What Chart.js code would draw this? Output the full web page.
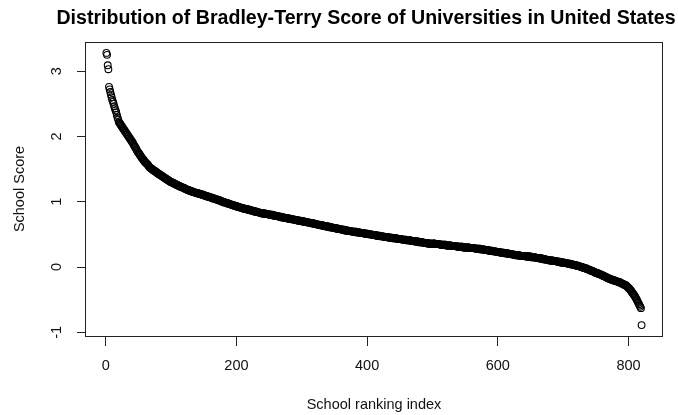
<!DOCTYPE html>
<html>
<head>
<meta charset="utf-8">
<script src="https://cdn.jsdelivr.net/npm/chart.js@4"></script>
<style>
  html, body { margin: 0; padding: 0; background: #fff; }
  #wrap { width: 678px; height: 415px; }
</style>
</head>
<body>
<div id="wrap"><canvas id="myChart" width="678" height="415"></canvas></div>
<script>
// Bradley-Terry score per school, in ranking order
const scores = [
  3.28, 3.25, 3.09, 3.03, 2.76, 2.72, 2.68, 2.64, 2.60, 2.56,
  2.53, 2.50, 2.46, 2.43, 2.40, 2.37, 2.33, 2.29, 2.26, 2.22,
  2.21, 2.19, 2.18, 2.16, 2.15, 2.13, 2.12, 2.10, 2.09, 2.07,
  2.06, 2.04, 2.03, 2.01, 2.00, 1.98, 1.97, 1.95, 1.94, 1.92,
  1.91, 1.89, 1.87, 1.85, 1.84, 1.82, 1.80, 1.78, 1.76, 1.75,
  1.74, 1.72, 1.71, 1.69, 1.68, 1.66, 1.65, 1.64, 1.62, 1.61,
  1.60, 1.59, 1.58, 1.57, 1.56, 1.54, 1.53, 1.52, 1.51, 1.51,
  1.50, 1.49, 1.48, 1.48, 1.47, 1.46, 1.46, 1.45, 1.44, 1.43,
  1.43, 1.42, 1.41, 1.41, 1.40, 1.39, 1.39, 1.38, 1.37, 1.37,
  1.36, 1.35, 1.35, 1.34, 1.33, 1.33, 1.32, 1.31, 1.31, 1.30,
  1.30, 1.29, 1.29, 1.28, 1.28, 1.27, 1.27, 1.26, 1.26, 1.25,
  1.25, 1.24, 1.24, 1.23, 1.23, 1.22, 1.22, 1.22, 1.21, 1.21,
  1.20, 1.20, 1.19, 1.19, 1.18, 1.18, 1.18, 1.17, 1.17, 1.16,
  1.16, 1.16, 1.15, 1.15, 1.15, 1.14, 1.14, 1.14, 1.13, 1.13,
  1.13, 1.13, 1.12, 1.12, 1.12, 1.11, 1.11, 1.11, 1.10, 1.10,
  1.10, 1.09, 1.09, 1.09, 1.08, 1.08, 1.08, 1.07, 1.07, 1.07,
  1.06, 1.06, 1.06, 1.05, 1.05, 1.05, 1.04, 1.04, 1.04, 1.03,
  1.03, 1.03, 1.02, 1.02, 1.02, 1.01, 1.01, 1.00, 1.00, 1.00,
  0.99, 0.99, 0.99, 0.98, 0.98, 0.98, 0.97, 0.97, 0.97, 0.96,
  0.96, 0.96, 0.95, 0.95, 0.95, 0.94, 0.94, 0.94, 0.93, 0.93,
  0.93, 0.92, 0.92, 0.92, 0.91, 0.91, 0.91, 0.91, 0.90, 0.90,
  0.90, 0.89, 0.89, 0.89, 0.89, 0.88, 0.88, 0.88, 0.88, 0.87,
  0.87, 0.87, 0.87, 0.86, 0.86, 0.86, 0.85, 0.85, 0.85, 0.85,
  0.84, 0.84, 0.84, 0.84, 0.83, 0.83, 0.83, 0.83, 0.82, 0.82,
  0.82, 0.82, 0.82, 0.82, 0.81, 0.81, 0.81, 0.81, 0.81, 0.80,
  0.80, 0.80, 0.80, 0.80, 0.80, 0.79, 0.79, 0.79, 0.79, 0.78,
  0.78, 0.78, 0.78, 0.78, 0.77, 0.77, 0.77, 0.77, 0.76, 0.76,
  0.76, 0.76, 0.76, 0.75, 0.75, 0.75, 0.75, 0.75, 0.74, 0.74,
  0.74, 0.74, 0.74, 0.73, 0.73, 0.73, 0.73, 0.73, 0.72, 0.72,
  0.72, 0.72, 0.72, 0.71, 0.71, 0.71, 0.71, 0.71, 0.70, 0.70,
  0.70, 0.70, 0.70, 0.69, 0.69, 0.69, 0.69, 0.69, 0.68, 0.68,
  0.68, 0.68, 0.68, 0.67, 0.67, 0.67, 0.67, 0.67, 0.66, 0.66,
  0.66, 0.66, 0.65, 0.65, 0.65, 0.65, 0.65, 0.64, 0.64, 0.64,
  0.64, 0.64, 0.63, 0.63, 0.63, 0.63, 0.62, 0.62, 0.62, 0.62,
  0.62, 0.61, 0.61, 0.61, 0.61, 0.61, 0.60, 0.60, 0.60, 0.60,
  0.60, 0.59, 0.59, 0.59, 0.59, 0.58, 0.58, 0.58, 0.58, 0.58,
  0.57, 0.57, 0.57, 0.57, 0.57, 0.56, 0.56, 0.56, 0.56, 0.56,
  0.55, 0.55, 0.55, 0.55, 0.55, 0.55, 0.54, 0.54, 0.54, 0.54,
  0.54, 0.54, 0.54, 0.53, 0.53, 0.53, 0.53, 0.53, 0.53, 0.52,
  0.52, 0.52, 0.52, 0.52, 0.52, 0.51, 0.51, 0.51, 0.51, 0.51,
  0.51, 0.50, 0.50, 0.50, 0.50, 0.50, 0.50, 0.49, 0.49, 0.49,
  0.49, 0.49, 0.49, 0.48, 0.48, 0.48, 0.48, 0.48, 0.48, 0.47,
  0.47, 0.47, 0.47, 0.47, 0.47, 0.46, 0.46, 0.46, 0.46, 0.46,
  0.46, 0.46, 0.45, 0.45, 0.45, 0.45, 0.45, 0.45, 0.44, 0.44,
  0.44, 0.44, 0.44, 0.44, 0.44, 0.43, 0.43, 0.43, 0.43, 0.43,
  0.43, 0.43, 0.42, 0.42, 0.42, 0.42, 0.42, 0.42, 0.42, 0.41,
  0.41, 0.41, 0.41, 0.41, 0.41, 0.41, 0.40, 0.40, 0.40, 0.40,
  0.40, 0.40, 0.39, 0.39, 0.39, 0.39, 0.39, 0.39, 0.38, 0.38,
  0.38, 0.38, 0.38, 0.38, 0.38, 0.37, 0.37, 0.37, 0.37, 0.37,
  0.37, 0.36, 0.36, 0.36, 0.36, 0.36, 0.36, 0.35, 0.35, 0.35,
  0.36, 0.36, 0.36, 0.35, 0.35, 0.35, 0.35, 0.35, 0.35, 0.35,
  0.35, 0.34, 0.34, 0.34, 0.34, 0.34, 0.34, 0.34, 0.34, 0.34,
  0.33, 0.33, 0.33, 0.33, 0.33, 0.33, 0.33, 0.33, 0.32, 0.32,
  0.32, 0.32, 0.32, 0.32, 0.32, 0.32, 0.32, 0.31, 0.31, 0.31,
  0.31, 0.31, 0.31, 0.31, 0.31, 0.31, 0.30, 0.30, 0.30, 0.30,
  0.30, 0.30, 0.30, 0.30, 0.30, 0.30, 0.29, 0.29, 0.29, 0.29,
  0.29, 0.29, 0.29, 0.29, 0.29, 0.28, 0.28, 0.28, 0.28, 0.28,
  0.28, 0.28, 0.28, 0.27, 0.27, 0.27, 0.27, 0.27, 0.27, 0.26,
  0.26, 0.26, 0.26, 0.26, 0.26, 0.25, 0.25, 0.25, 0.25, 0.25,
  0.25, 0.24, 0.24, 0.24, 0.24, 0.24, 0.24, 0.23, 0.23, 0.23,
  0.23, 0.23, 0.23, 0.22, 0.22, 0.22, 0.22, 0.22, 0.22, 0.21,
  0.21, 0.21, 0.21, 0.21, 0.21, 0.20, 0.20, 0.20, 0.20, 0.20,
  0.20, 0.19, 0.19, 0.19, 0.19, 0.19, 0.18, 0.18, 0.18, 0.18,
  0.18, 0.18, 0.18, 0.17, 0.17, 0.17, 0.17, 0.17, 0.17, 0.17,
  0.17, 0.17, 0.16, 0.16, 0.16, 0.16, 0.16, 0.16, 0.16, 0.16,
  0.15, 0.15, 0.15, 0.15, 0.15, 0.15, 0.15, 0.14, 0.14, 0.14,
  0.14, 0.14, 0.14, 0.13, 0.13, 0.13, 0.13, 0.13, 0.12, 0.12,
  0.12, 0.12, 0.12, 0.11, 0.11, 0.11, 0.11, 0.11, 0.10, 0.10,
  0.10, 0.10, 0.10, 0.10, 0.09, 0.09, 0.09, 0.09, 0.09, 0.09,
  0.08, 0.08, 0.08, 0.08, 0.08, 0.07, 0.07, 0.07, 0.07, 0.07,
  0.07, 0.06, 0.06, 0.06, 0.06, 0.06, 0.05, 0.05, 0.05, 0.05,
  0.05, 0.04, 0.04, 0.04, 0.04, 0.03, 0.03, 0.03, 0.03, 0.02,
  0.02, 0.02, 0.02, 0.01, 0.01, 0.01, 0.00, 0.00, 0.00, -0.01,
  -0.01, -0.01, -0.02, -0.02, -0.02, -0.03, -0.03, -0.04, -0.04, -0.04,
  -0.05, -0.05, -0.06, -0.06, -0.06, -0.07, -0.07, -0.08, -0.08, -0.09,
  -0.09, -0.09, -0.10, -0.10, -0.11, -0.11, -0.11, -0.12, -0.12, -0.13,
  -0.13, -0.14, -0.14, -0.15, -0.15, -0.16, -0.16, -0.17, -0.17, -0.18,
  -0.18, -0.18, -0.19, -0.19, -0.20, -0.20, -0.20, -0.21, -0.21, -0.21,
  -0.22, -0.22, -0.22, -0.23, -0.23, -0.23, -0.24, -0.24, -0.25, -0.25,
  -0.26, -0.26, -0.27, -0.27, -0.28, -0.28, -0.29, -0.30, -0.31, -0.32,
  -0.33, -0.34, -0.35, -0.37, -0.38, -0.40, -0.41, -0.42, -0.44, -0.45,
  -0.47, -0.49, -0.51, -0.53, -0.55, -0.57, -0.59, -0.61, -0.63, -0.89
];

const xTicks = [0, 200, 400, 600, 800];
const yTicks = [-1, 0, 1, 2, 3];

const titleText = 'Distribution of Bradley-Terry Score of Universities in United States';
const xTitle = 'School ranking index';
const yTitle = 'School Score';

const points = scores.map((s, i) => ({ x: i + 1, y: s }));

// R-ish padding of 4% around the data range
const xMin = 1 - 0.04 * (scores.length - 1);
const xMax = scores.length + 0.04 * (scores.length - 1);
const yLo = Math.min(...scores), yHi = Math.max(...scores);
const yMin = yLo - 0.04 * (yHi - yLo);
const yMax = yHi + 0.04 * (yHi - yLo);

const FONT = '"Liberation Sans", Arial, Helvetica, sans-serif';

// box, tick labels and titles drawn the way base R lays them out
const rStylePlugin = {
  id: 'rStyle',
  afterDraw(chart) {
    const { ctx, chartArea: { left, right, top, bottom }, scales: { x, y } } = chart;
    ctx.save();
    ctx.strokeStyle = '#222';
    ctx.lineWidth = 1;
    ctx.strokeRect(Math.round(left) + 0.5, Math.round(top) + 0.5,
                   Math.round(right - left) - 1, Math.round(bottom - top));

    ctx.fillStyle = '#111';
    ctx.font = '14.5px ' + FONT;
    ctx.textAlign = 'center';
    ctx.textBaseline = 'middle';
    xTicks.forEach(v => {
      ctx.fillText(String(v), x.getPixelForValue(v), bottom + 30);
    });
    yTicks.forEach(v => {
      ctx.save();
      ctx.translate(left - 28, y.getPixelForValue(v));
      ctx.rotate(-Math.PI / 2);
      ctx.fillText(String(v), 0, 0);
      ctx.restore();
    });

    ctx.fillText(xTitle, (left + right) / 2, bottom + 69);
    ctx.save();
    ctx.translate(20, (top + bottom) / 2);
    ctx.rotate(-Math.PI / 2);
    ctx.fillText(yTitle, 0, 0);
    ctx.restore();

    ctx.font = 'bold 19.6px ' + FONT;
    ctx.fillStyle = '#000';
    ctx.fillText(titleText, 366, 19);
    ctx.restore();
  }
};

const ctx = document.getElementById('myChart').getContext('2d');
const chart = new Chart(ctx, {
  type: 'scatter',
  data: {
    datasets: [{
      data: points,
      pointStyle: 'circle',
      pointRadius: 3.4,
      pointBorderWidth: 1.1,
      borderColor: '#000',
      pointBackgroundColor: 'rgba(0,0,0,0)',
      pointHoverRadius: 3.4
    }]
  },
  options: {
    responsive: false,
    animation: false,
    events: [],
    layout: { padding: { top: 42, right: 15, left: 0, bottom: 0 } },
    plugins: {
      legend: { display: false },
      tooltip: { enabled: false }
    },
    scales: {
      x: {
        type: 'linear',
        min: xMin,
        max: xMax,
        afterBuildTicks: s => { s.ticks = xTicks.map(v => ({ value: v })); },
        afterFit: s => { s.height = 79; },
        ticks: { display: false },
        border: { display: false },
        grid: { drawOnChartArea: false, drawTicks: true, tickLength: 10, color: '#222', lineWidth: 1 }
      },
      y: {
        type: 'linear',
        min: yMin,
        max: yMax,
        afterBuildTicks: s => { s.ticks = yTicks.map(v => ({ value: v })); },
        afterFit: s => { s.width = 85; },
        ticks: { display: false },
        border: { display: false },
        grid: { drawOnChartArea: false, drawTicks: true, tickLength: 8, color: '#222', lineWidth: 1 }
      }
    }
  },
  plugins: [rStylePlugin]
});
</script>
</body>
</html>
